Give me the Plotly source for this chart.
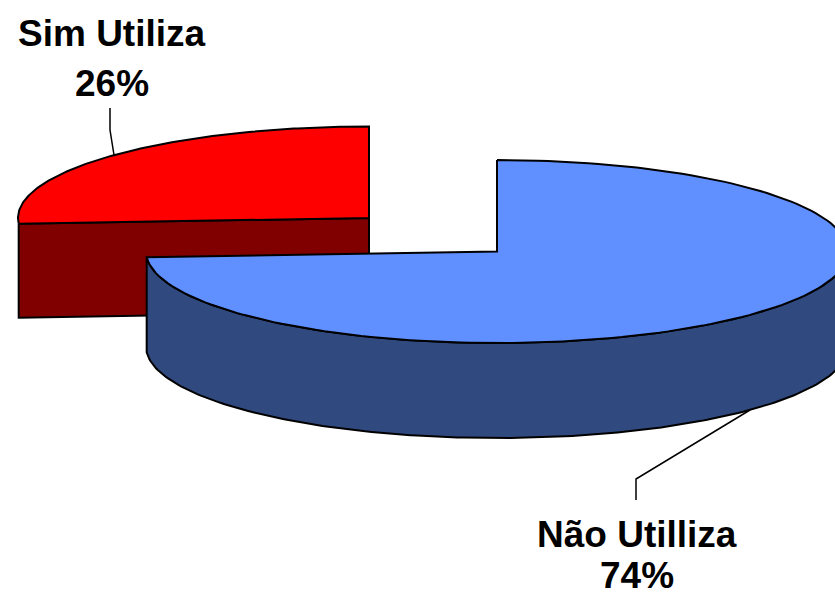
import numpy as np
import plotly.graph_objects as go

categories = ["Sim Utiliza", "Não Utilliza"]
values = [26, 74]
top_colors = ["#ff0000", "#6090ff"]
side_colors = ["#800000", "#30497f"]

W, H = 835, 597
RX, RY, DEPTH = 351, 91.5, 95
RED_DEPTH = 94
CENTERS = {"Sim Utiliza": (369, 218), "Não Utilliza": (497, 251.5)}

total = sum(values)
frac_blue = values[1] / total


def arc(cx, cy, a0, a1, n=160):
    """Angles in radians, clockwise from 12 o'clock on the squashed ellipse."""
    t = np.linspace(a0, a1, n)
    return cx + RX * np.sin(t), cy - RY * np.cos(t)


def poly(fig, xs, ys, fill):
    fig.add_trace(go.Scatter(
        x=list(xs) + [xs[0]], y=list(ys) + [ys[0]], mode="lines", fill="toself",
        fillcolor=fill, line=dict(color="black", width=2), hoverinfo="skip",
        showlegend=False))


fig = go.Figure()
split = 2 * np.pi * frac_blue

# --- red slice (from the split angle to 12 o'clock) ---
cx, cy = CENTERS[categories[0]]
ax, ay = arc(cx, cy, split, 2 * np.pi)
# cut face running from the rim back to the centre
poly(fig, [ax[0], cx, cx, ax[0]], [ay[0], cy, cy + RED_DEPTH, ay[0] + RED_DEPTH], side_colors[0])
poly(fig, list(ax) + [cx], list(ay) + [cy], top_colors[0])

# --- blue slice (from 12 o'clock to the split angle) ---
cx, cy = CENTERS[categories[1]]
bx, by = arc(cx, cy, 0, split)
# outer wall only where the rim faces the viewer
lo = np.pi / 2
wx, wy = arc(cx, cy, lo, split)
poly(fig, list(wx) + list(wx[::-1]), list(wy) + list((wy + DEPTH)[::-1]), side_colors[1])
poly(fig, list(bx) + [cx], list(by) + [cy], top_colors[1])

# --- leader lines ---
leader_x = [[114, 110, 110], [750, 636, 636]]
leader_y = [[155, 130, 108], [410, 479, 500]]
for lx, ly in zip(leader_x, leader_y):
    fig.add_trace(go.Scatter(x=lx, y=ly, mode="lines", line=dict(color="black", width=1.5),
                             hoverinfo="skip", showlegend=False))

# --- labels ---
label_pos = [(112, 33, 83), (637, 534, 575)]
for name, v, (x, y1, y2) in zip(categories, values, label_pos):
    for y, txt in ((y1, name), (y2, f"{v}%")):
        fig.add_annotation(x=x, y=y, text=f"<b>{txt}</b>", showarrow=False,
                           font=dict(family="Liberation Sans, Arial", size=37, color="black"))

fig.update_xaxes(range=[0, W], visible=False, fixedrange=True)
fig.update_yaxes(range=[H, 0], visible=False, fixedrange=True)
fig.update_layout(width=W, height=H, margin=dict(l=0, r=0, t=0, b=0),
                  paper_bgcolor="white", plot_bgcolor="white", showlegend=False)
fig.write_html("out.html", config={"displayModeBar": False}, post_script="document.body.style.margin='0';")
